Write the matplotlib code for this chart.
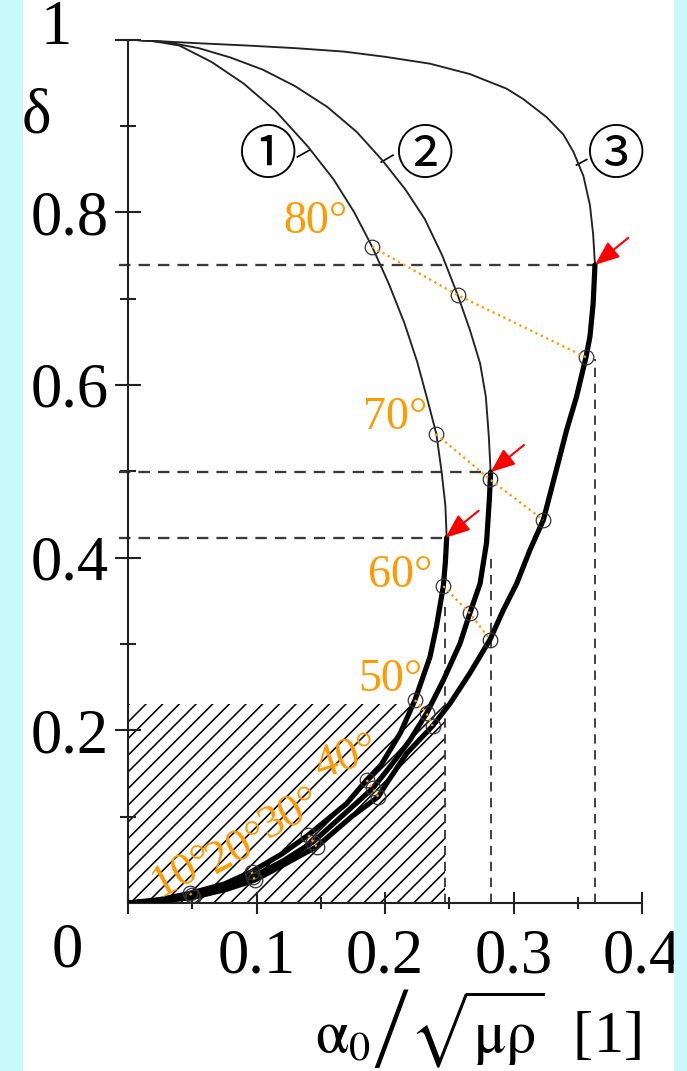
import matplotlib.pyplot as plt
from matplotlib.patches import Rectangle

plt.rcParams['font.family'] = 'Liberation Serif'
plt.rcParams['mathtext.fontset'] = 'stix'
plt.rcParams['hatch.color'] = '#2a2a2a'
plt.rcParams['hatch.linewidth'] = 0.75

# upper (thin) branch of each curve: from (0, 1) down to the turning point
c1_up_x = [0, 0.02, 0.04, 0.065, 0.09, 0.115, 0.14, 0.16, 0.176, 0.190, 0.203, 0.215, 0.225, 0.233, 0.240, 0.244, 0.247, 0.248]
c1_up_y = [1.0, 0.998, 0.993, 0.974, 0.949, 0.917, 0.876, 0.838, 0.800, 0.760, 0.717, 0.672, 0.627, 0.583, 0.543, 0.500, 0.460, 0.423]
c2_up_x = [0, 0.03, 0.055, 0.08, 0.105, 0.130, 0.155, 0.178, 0.198, 0.216, 0.231, 0.2445, 0.2566, 0.266, 0.274, 0.2785, 0.2808, 0.2822]
c2_up_y = [1.0, 0.997, 0.990, 0.979, 0.965, 0.946, 0.922, 0.893, 0.860, 0.826, 0.792, 0.750, 0.704, 0.664, 0.625, 0.586, 0.540, 0.499]
c3_up_x = [0, 0.05, 0.093, 0.130, 0.168, 0.200, 0.235, 0.266, 0.2947, 0.3076, 0.3258, 0.3388, 0.3466, 0.3544, 0.3595, 0.362, 0.3634]
c3_up_y = [1.0, 0.996, 0.993, 0.990, 0.986, 0.980, 0.972, 0.960, 0.943, 0.931, 0.910, 0.890, 0.870, 0.842, 0.808, 0.774, 0.739]

# lower (bold) branch: from the turning point back to the origin
c1_lo_x = [0.248, 0.247, 0.2454, 0.240, 0.235, 0.2233, 0.212, 0.197, 0.1857, 0.170, 0.1403, 0.120, 0.0962, 0.075, 0.0482, 0.025, 0]
c1_lo_y = [0.423, 0.395, 0.367, 0.320, 0.285, 0.235, 0.197, 0.160, 0.1424, 0.115, 0.0787, 0.057, 0.0363, 0.022, 0.0112, 0.004, 0]
c2_lo_x = [0.2822, 0.2812, 0.279, 0.274, 0.266, 0.2584, 0.2454, 0.2324, 0.2195, 0.204, 0.1904, 0.172, 0.1442, 0.121, 0.0975, 0.076, 0.0496, 0.025, 0]
c2_lo_y = [0.499, 0.467, 0.417, 0.370, 0.3355, 0.3006, 0.258, 0.2197, 0.1888, 0.158, 0.1328, 0.108, 0.071, 0.049, 0.0305, 0.019, 0.0093, 0.003, 0]
c3_lo_x = [0.3634, 0.3628, 0.362, 0.3595, 0.3564, 0.349, 0.3414, 0.3336, 0.3232, 0.3128, 0.3025, 0.292, 0.2817, 0.266, 0.2506, 0.237, 0.2169, 0.2013, 0.1948, 0.174, 0.1468, 0.122, 0.0988, 0.077, 0.0508, 0.025, 0]
c3_lo_y = [0.739, 0.720, 0.6945, 0.656, 0.632, 0.586, 0.548, 0.503, 0.4435, 0.4088, 0.370, 0.339, 0.305, 0.266, 0.231, 0.205, 0.1733, 0.1386, 0.1231, 0.100, 0.0652, 0.045, 0.0266, 0.016, 0.0066, 0.002, 0]

# points at 10°, 20°, ... 80° on each curve
angles = [10, 20, 30, 40, 50, 60, 70, 80]
m1_x = [0.0482, 0.0962, 0.1403, 0.1857, 0.2233, 0.2454, 0.2397, 0.190]
m1_y = [0.0112, 0.0363, 0.0787, 0.1424, 0.235, 0.367, 0.543, 0.760]
m2_x = [0.0496, 0.0975, 0.1442, 0.1904, 0.2324, 0.266, 0.2817, 0.2566]
m2_y = [0.0093, 0.0305, 0.071, 0.1328, 0.2197, 0.3355, 0.4906, 0.704]
m3_x = [0.0508, 0.0988, 0.1468, 0.1948, 0.237, 0.2817, 0.3232, 0.3564]
m3_y = [0.0066, 0.0266, 0.0652, 0.1231, 0.205, 0.305, 0.4435, 0.632]

# angle label positions and rotation
ang_lab_x = [0.043, 0.086, 0.127, 0.170, 0.204, 0.212, 0.208, 0.146]
ang_lab_y = [0.036, 0.063, 0.103, 0.168, 0.259, 0.379, 0.562, 0.789]
ang_lab_rot = [28, 28, 28, 18, 0, 0, 0, 0]

# turning points (max of each curve) and the height the vertical dashes reach
turn_x = [0.247, 0.2822, 0.3634]
turn_y = [0.423, 0.499, 0.739]
vdash_top = [0.343, 0.40, 0.63]

# curve labels and short leaders
curve_names = ['\u2460', '\u2461', '\u2462']
name_x = [0.109, 0.231, 0.380]
name_y = [0.864, 0.864, 0.864]
lead_x = [(0.1318, 0.1414), (0.197, 0.2062), (0.349, 0.357)]
lead_y = [(0.864, 0.872), (0.858, 0.866), (0.8546, 0.861)]

hatch_w = 0.247
hatch_h = 0.231

W, H, DPI = 687, 1071, 150
fig = plt.figure(figsize=(W / DPI, H / DPI), dpi=DPI)
fig.patches.append(Rectangle((0, 0), 21.5 / W, 1, transform=fig.transFigure, color='#C8FAFB', zorder=0))
fig.patches.append(Rectangle((675 / W, 0), 12 / W, 1, transform=fig.transFigure, color='#C8FAFB', zorder=0))

ax = fig.add_axes([128 / W, (H - 903) / H, 514 / W, 863.5 / H])
ax.set_xlim(0, 0.4)
ax.set_ylim(0, 1)
ax.patch.set_alpha(0)

ax.add_patch(Rectangle((0, 0), hatch_w, hatch_h, fill=False, hatch='///', lw=0, zorder=1))

dash_col = '#3a3a3a'
for tx, ty, vt in zip(turn_x, turn_y, vdash_top):
    ax.plot([-0.007, tx], [ty, ty], color=dash_col, lw=1.1, ls=(0, (5, 3.5)), clip_on=False, zorder=2)
    ax.plot([tx, tx], [0, vt], color=dash_col, lw=0.9, ls=(0, (5, 3.5)), zorder=2)

thin_col = '#222222'
for ux, uy, lx, ly in [(c1_up_x, c1_up_y, c1_lo_x, c1_lo_y),
                       (c2_up_x, c2_up_y, c2_lo_x, c2_lo_y),
                       (c3_up_x, c3_up_y, c3_lo_x, c3_lo_y)]:
    ax.plot(ux, uy, color=thin_col, lw=0.9, zorder=3, solid_capstyle='round')
    ax.plot(lx, ly, color='black', lw=2.5, zorder=3, solid_capstyle='round', solid_joinstyle='round')

orange = '#FF9A00'
for i in range(len(angles)):
    ax.plot([m1_x[i], m2_x[i], m3_x[i]], [m1_y[i], m2_y[i], m3_y[i]],
            color=orange, lw=1.1, ls=(0, (1, 1.6)), zorder=5)
for mx, my in [(m1_x, m1_y), (m2_x, m2_y), (m3_x, m3_y)]:
    ax.plot(mx, my, 'o', mfc='none', mec='#333333', ms=7, mew=0.6, zorder=4)

for a, lx, ly, r in zip(angles, ang_lab_x, ang_lab_y, ang_lab_rot):
    ax.text(lx, ly, f'{a}°', color=orange, fontsize=22, ha='center', va='center',
            rotation=r, rotation_mode='anchor', zorder=6)

for tx, ty in zip(turn_x, turn_y):
    ax.annotate('', xy=(tx, ty), xytext=(16, 13), textcoords='offset points',
                arrowprops=dict(arrowstyle='-|>,head_length=0.55,head_width=0.22',
                                color='red', lw=1.0, mutation_scale=18,
                                shrinkA=0, shrinkB=0), zorder=7)

for n, nx, ny, lx, ly in zip(curve_names, name_x, name_y, lead_x, lead_y):
    ax.text(nx, ny, n, fontsize=28, ha='center', va='center',
            family=['Noto Sans CJK JP', 'DejaVu Sans'])
    ax.plot(lx, ly, color='black', lw=0.8)

# axes
for s in ['top', 'right']:
    ax.spines[s].set_visible(False)
ax.spines['left'].set_linewidth(1.0)
ax.spines['bottom'].set_linewidth(1.0)
ax.spines['left'].set_color('#222222')
ax.spines['bottom'].set_color('#222222')

ax.set_xticks([0, 0.1, 0.2, 0.3, 0.4])
ax.set_xticks([0.05, 0.15, 0.25, 0.35], minor=True)
ax.set_xticklabels(['', '0.1', '0.2', '0.3', '0.4'])
ax.set_yticks([0.2, 0.4, 0.6, 0.8, 1.0])
ax.set_yticks([0.1, 0.3, 0.5, 0.7, 0.9], minor=True)
ax.set_yticklabels(['0.2', '0.4', '0.6', '0.8', ''])
ax.tick_params(axis='x', which='major', direction='inout', length=10.5, width=1.0, pad=7, labelsize=30, color='#222222')
ax.tick_params(axis='x', which='minor', direction='inout', length=6, width=1.0, color='#222222')
ax.tick_params(axis='y', which='major', direction='inout', length=12.5, width=1.0, pad=3, labelsize=30, color='#222222')
ax.tick_params(axis='y', which='minor', direction='inout', length=8, width=1.0, color='#222222')

ax.text(-0.047, -0.056, '0', fontsize=30, ha='center', va='center', clip_on=False)
ax.text(-0.0563, 1.012, '1', fontsize=30, ha='center', va='center', clip_on=False)
ax.text(-0.0716, 0.910, 'δ', fontsize=30, ha='center', va='center', clip_on=False)
ax.text(0.681, -0.145, r'$\mathrm{\alpha}_0\left/\sqrt{\mathrm{\mu\rho}}\right.$  [1]', fontsize=29,
        ha='center', va='center', transform=ax.transAxes)

plt.savefig('out.png', dpi=DPI)
